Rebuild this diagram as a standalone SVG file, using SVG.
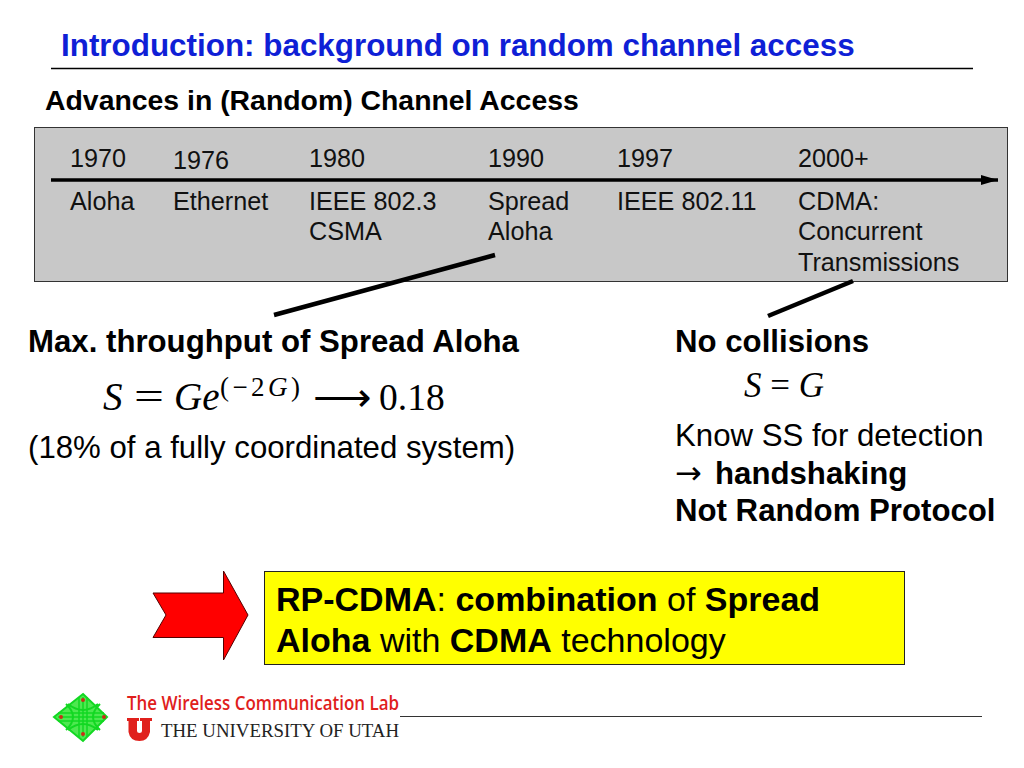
<svg xmlns="http://www.w3.org/2000/svg" width="1024" height="768" viewBox="0 0 1024 768">
<defs>
<style>
text{font-family:"Liberation Sans",Arial,sans-serif;fill:#000}
.y{font-size:25.200px;fill:#111}
.b{font-size:31.200px;font-weight:bold}
.r{font-size:31.200px}
.m{font-family:"Liberation Serif","Times New Roman",serif}
.c{stroke:#000;stroke-width:4.500;fill:none}
</style>
<marker id="ah" markerUnits="userSpaceOnUse" markerWidth="18" markerHeight="12" refX="17" refY="6" orient="auto"><path d="M0 1L17 6L0 11Z" fill="#000"/></marker>
</defs>
<rect width="1024" height="768" fill="#fff"/>
<g id="title">
<text x="61" y="55.500" font-size="31.400" font-weight="bold" style="fill:#0f1fd6">Introduction: background on random channel access</text>
<line x1="51" y1="68.500" x2="973" y2="68.500" stroke="#000" stroke-width="1.500"/>
<text x="45" y="109.500" font-size="28.400" font-weight="bold">Advances in (Random) Channel Access</text>
</g>
<g id="timeline-box"><rect x="34.500" y="127.500" width="973" height="154" fill="#c8c8c8" stroke="#333" stroke-width="1"/></g>
<g id="connectors">
<line x1="51" y1="180" x2="998" y2="180" stroke="#000" stroke-width="3.500" marker-end="url(#ah)"/>
<line class="c" x1="495" y1="255" x2="274" y2="315"/>
<line class="c" x1="853" y1="281" x2="768" y2="316"/>
</g>
<g id="n1970"><text class="y" x="70" y="167">1970</text><text class="y" x="70" y="210">Aloha</text></g>
<g id="n1976"><text class="y" x="173" y="169">1976</text><text class="y" x="173" y="210">Ethernet</text></g>
<g id="n1980"><text class="y" x="309" y="167">1980</text><text class="y" x="309" y="210">IEEE 802.3</text><text class="y" x="309" y="240">CSMA</text></g>
<g id="n1990"><text class="y" x="488" y="167">1990</text><text class="y" x="488" y="210">Spread</text><text class="y" x="488" y="240">Aloha</text></g>
<g id="n1997"><text class="y" x="617" y="167">1997</text><text class="y" x="617" y="210">IEEE 802.11</text></g>
<g id="n2000"><text class="y" x="798" y="167">2000+</text><text class="y" x="798" y="210">CDMA:</text><text class="y" x="798" y="240">Concurrent</text><text class="y" x="798" y="271">Transmissions</text></g>
<g id="left-note">
<text class="b" x="28" y="352">Max. throughput of Spread Aloha</text>
<text class="m" x="103" y="410" font-size="39" font-style="italic">S</text>
<text class="m" x="134" y="410" font-size="39" textLength="30" lengthAdjust="spacingAndGlyphs">=</text>
<text class="m" x="174" y="410" font-size="39" font-style="italic">Ge</text>
<text class="m" x="220" y="396" font-size="27" textLength="80">(−2<tspan font-style="italic">G</tspan>)</text>
<text class="m" x="313" y="410" font-size="38" textLength="58" lengthAdjust="spacingAndGlyphs">⟶</text>
<text class="m" x="379" y="410" font-size="37.500">0.18</text>
<text class="r" x="28" y="458">(18% of a fully coordinated system)</text>
</g>
<g id="right-note">
<text class="b" x="675" y="352">No collisions</text>
<text class="m" x="744" y="397" font-size="35"><tspan font-style="italic">S</tspan> = <tspan font-style="italic">G</tspan></text>
<text class="r" x="675" y="446">Know SS for detection</text>
<text class="b" x="675" y="484"><tspan font-family="'DejaVu Sans',sans-serif" font-weight="normal" font-size="32">→</tspan><tspan x="715">handshaking</tspan></text>
<text class="b" x="675" y="521">Not Random Protocol</text>
</g>
<g id="arrow"><path d="M153 593H223.500V571L248 615L223.500 660V637.500H153L166 615Z" fill="#f00" stroke="#500" stroke-width="1"/></g>
<g id="callout">
<rect x="264.500" y="571.500" width="640" height="93" fill="#ff0" stroke="#222" stroke-width="1"/>
<text x="276" y="611" font-size="34"><tspan font-weight="bold">RP-CDMA</tspan>: <tspan font-weight="bold">combination</tspan> of <tspan font-weight="bold">Spread</tspan></text>
<text x="276" y="652" font-size="34"><tspan font-weight="bold">Aloha</tspan> with <tspan font-weight="bold">CDMA</tspan> technology</text>
</g>
<g id="footer">
<line x1="400" y1="716.500" x2="982" y2="716.500" stroke="#333" stroke-width="1"/>
<path d="M83 694L107 717L83 741L54 717Z" fill="#4ee850"/>
<g fill="none" stroke="#12d822" stroke-width="2">
<path d="M83 694L107 717L83 741L54 717Z"/>
<path d="M83 697V737M79 697V737M87 697V737M58 717H104M58 713H104M58 721H104" stroke-width="1.500"/>
<path d="M66 704Q80 717 66 730M100 704Q86 717 100 730M68 704Q83 716 98 704M68 730Q83 718 98 730" stroke-width="2"/>
</g>
<g fill="#c83018"><circle cx="83" cy="700" r="2"/><circle cx="83" cy="734" r="2"/><circle cx="61" cy="717" r="2"/><circle cx="104" cy="717" r="2"/></g>
<text x="127" y="710" font-size="20" font-weight="600" textLength="272" lengthAdjust="spacingAndGlyphs" style="fill:#e0201c;font-family:'Open Sans',sans-serif">The Wireless Communication Lab</text>
<path d="M127 718H139V721H137V731Q137 733 139.500 733Q142 733 142 731V721H140V718H152V721H150V732Q148 741 139.500 741Q130 741 128.500 732V721H127Z" fill="#e0201c"/>
<text class="m" x="161" y="737" font-size="19.500" textLength="238" lengthAdjust="spacingAndGlyphs" style="fill:#222">THE UNIVERSITY OF UTAH</text>
</g>
</svg>
